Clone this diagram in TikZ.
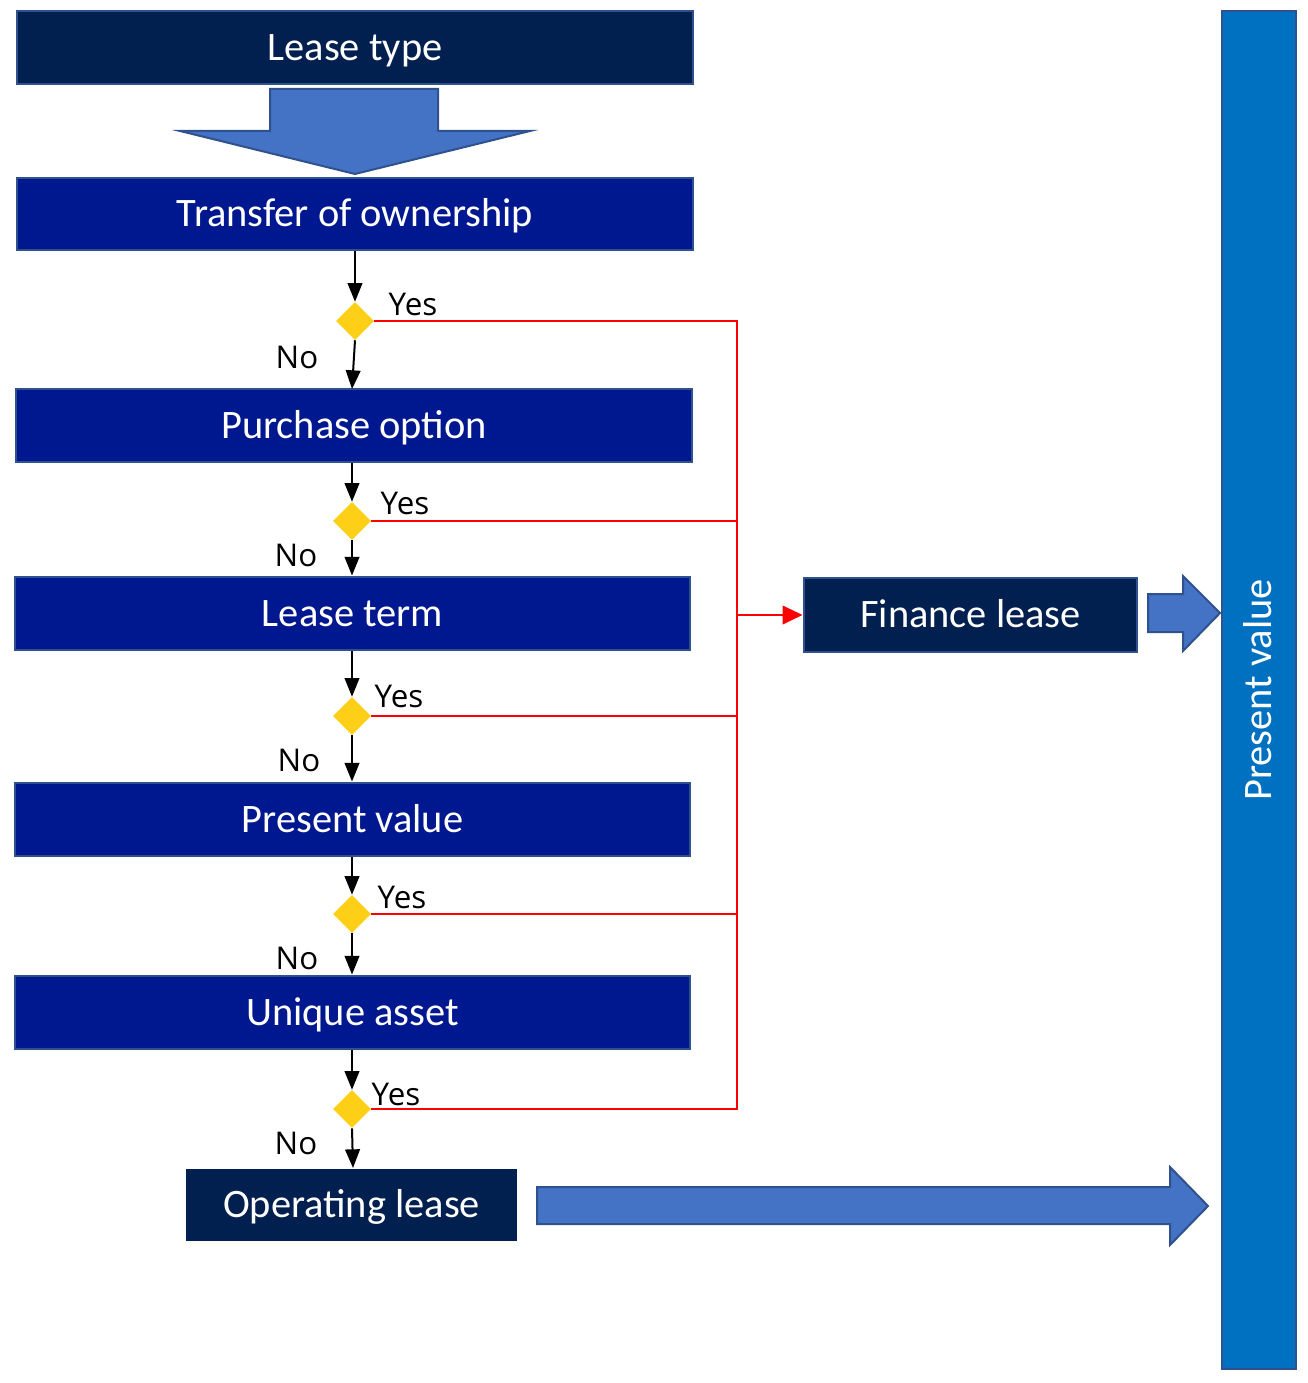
\documentclass[tikz,border=0pt]{standalone}
\usepackage{fontspec}
\setmainfont{Carlito}
\newfontfamily\labfont{Open Sans}
\usetikzlibrary{shapes.geometric,arrows.meta,calc}
\definecolor{darknavy}{HTML}{012050}
\definecolor{navy}{HTML}{00188F}
\definecolor{edgeblue}{HTML}{2F528F}
\definecolor{arrowblue}{HTML}{4472C4}
\definecolor{barblue}{HTML}{0070C0}
\definecolor{gold}{HTML}{FDD017}
\definecolor{redline}{HTML}{FF0000}
\begin{document}
\begin{tikzpicture}[x=0.75pt,y=-0.75pt,
  boxtext/.style={text=white,font=\fontsize{30.3}{36}\selectfont,inner sep=0pt,text height=19.4pt,text depth=0pt},
  stepbox/.style={boxtext,rectangle,fill=navy,draw=edgeblue,line width=2.2pt},
  darkbox/.style={boxtext,rectangle,fill=darknavy,draw=edgeblue,line width=2.2pt},
  decision/.style={diamond,fill=gold,draw=none,inner sep=0pt,minimum width=28.5pt,minimum height=28.5pt},
  blkarrow/.style={draw=black,line width=1.5pt,-{Triangle[length=14pt,width=11pt]}},
  redarrow/.style={draw=redline,line width=1.4pt},
  blockarrow/.style={fill=arrowblue,draw=edgeblue,line width=1.5pt},
  lab/.style={font=\labfont\fontsize{23.5}{28}\selectfont,inner sep=0pt}]
\useasboundingbox (0,0) rectangle (1308,1383);

% tall bar
\node[rectangle,fill=barblue,draw=edgeblue,line width=2.2pt,minimum width={74*0.75pt},minimum height={1358*0.75pt},inner sep=0pt] (bar) at (1259,690) {};
\node[boxtext,rotate=90] (bartext) at (1259,690) {Present value};

% boxes
\node[darkbox,minimum width={676*0.75pt},minimum height={73*0.75pt}] (lt) at (355,47.5) {Lease type};
\node[stepbox,minimum width={676*0.75pt},minimum height={72*0.75pt}] (tr) at (355,214) {Transfer of ownership};
\node[stepbox,minimum width={676*0.75pt},minimum height={73*0.75pt}] (po) at (354,425.5) {Purchase option};
\node[stepbox,minimum width={675*0.75pt},minimum height={73*0.75pt}] (ltm) at (352.5,613.5) {Lease term};
\node[stepbox,minimum width={675*0.75pt},minimum height={73*0.75pt}] (pv) at (352.5,819.5) {Present value};
\node[stepbox,minimum width={675*0.75pt},minimum height={73*0.75pt}] (ua) at (352.5,1012.5) {Unique asset};
\node[boxtext,rectangle,fill=darknavy,minimum width={331*0.75pt},minimum height={72*0.75pt}] (ol) at (351.5,1205) {Operating lease};
\node[darkbox,minimum width={333*0.75pt},minimum height={74*0.75pt}] (fl) at (970.5,615) {Finance lease};

% block arrows
\path[blockarrow] (270,89) -- (438,89) -- (438,131) -- (530,131) -- (355,174) -- (180,131) -- (270,131) -- cycle;
\path[blockarrow] (1148,594) -- (1183,594) -- (1183,576) -- (1220,613) -- (1183,651) -- (1183,632) -- (1148,632) -- cycle;
\path[blockarrow] (537,1187) -- (1170,1187) -- (1170,1167) -- (1208,1206) -- (1170,1245) -- (1170,1224) -- (537,1224) -- cycle;

% decisions
\node[decision] (d1) at (355,321) {};
\node[decision] (d2) at (352,521) {};
\node[decision] (d3) at (352,716) {};
\node[decision] (d4) at (352,914) {};
\node[decision] (d5) at (352,1109) {};

% black flow arrows
\draw[blkarrow] (tr.south -| d1) -- (d1.north);
\draw[blkarrow] (d1.south) -- (352,389);
\draw[blkarrow] (po.south -| d2) -- (d2.north);
\draw[blkarrow] (d2.south) -- (d2.south |- ltm.north);
\draw[blkarrow] (ltm.south -| d3) -- (d3.north);
\draw[blkarrow] (d3.south) -- (d3.south |- pv.north);
\draw[blkarrow] (pv.south -| d4) -- (d4.north);
\draw[blkarrow] (d4.south) -- (d4.south |- ua.north);
\draw[blkarrow] (ua.south -| d5) -- (d5.north);
\draw[blkarrow] (d5.south) -- (353,1168);

% red yes lines
\coordinate (busx) at (737,0);
\coordinate (bus) at (busx |- fl.west);
\draw[redarrow] (d1.east) -| (bus);
\draw[redarrow] (d5.east) -| (bus);
\draw[redarrow] (d2.east) -- (d2.east -| bus);
\draw[redarrow] (d3.east) -- (d3.east -| bus);
\draw[redarrow] (d4.east) -- (d4.east -| bus);
\draw[redarrow,-{Triangle[length=15pt,width=14pt]}] (bus) -- (fl.west);

% labels
\node[lab] (y1) at (413,304) {Yes};
\node[lab] (n1) at (297,357) {No};
\node[lab] (y2) at (405,503) {Yes};
\node[lab] (n2) at (296,555) {No};
\node[lab] (y3) at (399,696) {Yes};
\node[lab] (n3) at (299,760) {No};
\node[lab] (y4) at (402,897) {Yes};
\node[lab] (n4) at (297,958) {No};
\node[lab] (y5) at (396,1094) {Yes};
\node[lab] (n5) at (296,1143) {No};
\end{tikzpicture}
\end{document}
